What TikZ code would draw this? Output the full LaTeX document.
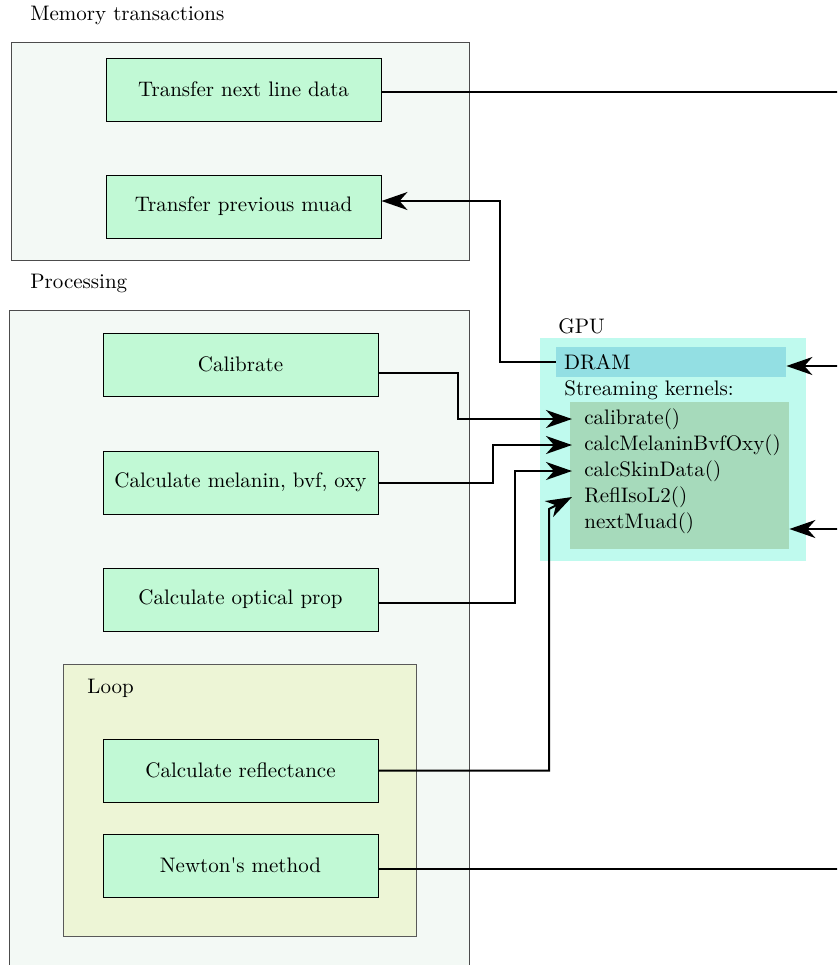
\documentclass[tikz,border=0pt]{standalone}
\usetikzlibrary{arrows.meta}

\definecolor{groupbg}{HTML}{F3F9F5}
\definecolor{stagebg}{HTML}{C1F9D5}
\definecolor{loopbg}{HTML}{EDF5D6}
\definecolor{gpubg}{HTML}{BFFAEE}
\definecolor{drambg}{HTML}{93DFE3}
\definecolor{kernelbg}{HTML}{A6DABB}

\newcommand{\boxfont}{\fontsize{10.5}{12.5}\selectfont}

\tikzset{
  group/.style={draw=black!70, fill=groupbg, line width=0.5pt},
  stage/.style={draw=black, fill=stagebg, line width=0.5pt,
    minimum width=137.5pt, minimum height=31.5pt, font=\boxfont},
  caption/.style={anchor=west, inner sep=0pt, font=\boxfont},
  kernel/.style={anchor=west, inner xsep=6pt, inner ysep=0pt, font=\boxfont},
  wire/.style={line width=1pt},
  conn/.style={line width=1pt, -{Stealth[length=13pt,width=9pt,inset=4pt]}},
}

\begin{document}
\begin{tikzpicture}[x=0.5pt, y=-0.5pt]
    \clip (0,0) rectangle (837,965);

    % Memory transactions
    \node[caption] (memlabel) at (30,15) {Memory transactions};
    \draw[group] (11,42) rectangle (469,260);
    \node[stage] (nextline) at (243.5,89.5) {Transfer next line data};
    \node[stage] (prevmuad) at (243.5,206.5) {Transfer previous muad};

    % Processing
    \node[caption] (proclabel) at (30,283) {Processing};
    \draw[group] (9,310) rectangle (469,1000);
    \node[stage] (calib) at (240.5,364.5) {Calibrate};
    \node[stage] (melanin) at (240.5,482.5) {Calculate melanin, bvf, oxy};
    \node[stage] (optical) at (240.5,599.5) {Calculate optical prop};

    % Loop
    \draw[group, draw=black!65, fill=loopbg] (63,664) rectangle (416,936);
    \node[caption] (looplabel) at (87,688) {Loop};
    \node[stage] (refl) at (240.5,770.5) {Calculate reflectance};
    \node[stage] (newton) at (240.5,865.5) {Newton\textquotesingle s method};

    % GPU
    \node[caption] (gpulabel) at (558,326) {GPU};
    \node[fill=gpubg, minimum width=133pt, minimum height=111.5pt] (gpu) at (673,449.5) {};
    \node[fill=drambg, text width=107pt, align=left, inner xsep=4pt,
      minimum height=15pt, font=\boxfont] (dram) at (671,362) {DRAM};
    \node[caption] (streamlabel) at (564,390) {Streaming kernels:};
    \node[fill=kernelbg, minimum width=109.5pt, minimum height=73.5pt] (kernels) at (679.5,475.5) {};
    \foreach \txt [count=\i] in {calibrate(), calcMelaninBvfOxy(), calcSkinData(), ReflIsoL2(), nextMuad()}
      \node[kernel] (k\i) at (572,393+26*\i) {\txt};

    % Off-page ends
    \coordinate (lineout) at (845,92);
    \coordinate (dramin) at (845,366);
    \coordinate (muadin) at (845,529);
    \coordinate (newtonout) at (845,869);

    % Connectors
    \draw[wire] ([yshift=-1.25pt]nextline.east) -- (lineout);
    \draw[conn] (dramin) -- (dramin -| dram.east);
    \draw[conn] (dram.west) -- ++(-56,0) |- ([yshift=2.75pt]prevmuad.east);
    \draw[conn] ([yshift=-4pt]calib.east) -- ++(79,0) |- (k1.west);
    \draw[conn] (melanin.east) -- ++(114,0) |- (k2.west);
    \draw[conn] ([yshift=-1.75pt]optical.east) -- ++(136,0) |- (k3.west);
    \draw[conn] (refl.east) -| (549,509) -- (k4.west);
    \draw[conn] (muadin) -- (muadin -| kernels.east);
    \draw[wire] ([yshift=-1.75pt]newton.east) -- (newtonout);
\end{tikzpicture}
\end{document}
